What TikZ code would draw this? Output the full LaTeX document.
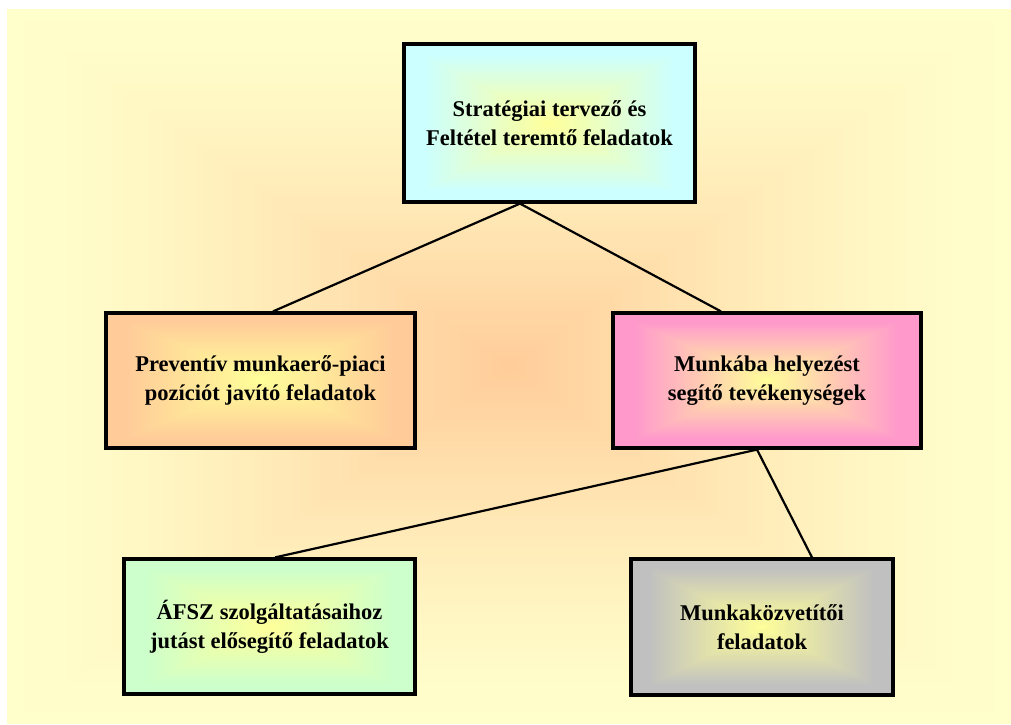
\documentclass[tikz,border=0pt]{standalone}
\usepackage{fontspec}
\setmainfont{Liberation Serif}
\usetikzlibrary{calc}
\definecolor{ctryel}{HTML}{FFFF99}
\definecolor{bgyel}{HTML}{FFFFCC}
\definecolor{bgor}{HTML}{FFCC99}
\definecolor{ecyan}{HTML}{CCFFFF}
\definecolor{epeach}{HTML}{FFCC99}
\definecolor{epink}{HTML}{FF99CC}
\definecolor{egreen}{HTML}{CCFFCC}
\definecolor{egrey}{HTML}{C0C0C0}
\newcommand{\myboxgrad}[1]{%
  \foreach \k in {0,...,60}{%
    \pgfmathsetmacro{\ff}{1-\k/60}%
    \pgfmathsetmacro{\pp}{min(100,115*\ff)}%
    \fill[#1!\pp!ctryel]
      ($(path picture bounding box.center)!\ff!(path picture bounding box.south west)$)
      rectangle
      ($(path picture bounding box.center)!\ff!(path picture bounding box.north east)$);
  }}
\tikzset{
  gbox/.style={draw=black, line width=3.2pt, align=center,
    font=\fontsize{22.5}{29}\selectfont\bfseries,
    path picture={\myboxgrad{#1}}},
  link/.style={draw=black, line width=2.2pt}
}
\begin{document}
\begin{tikzpicture}[x=1pt,y=-1pt]
\useasboundingbox (0,0) rectangle (1011,724);
% background gradient
\foreach \k in {0,...,120}{%
  \pgfmathsetmacro{\ff}{1-\k/120}%
  \pgfmathsetmacro{\pp}{100*(1-\ff)^1.4}%
  \fill[bgor!\pp!bgyel] ({509-502*\ff},{366.5-357.5*\ff}) rectangle ({509+502*\ff},{366.5+357.5*\ff});
}
\node[gbox=ecyan, minimum width=291pt, minimum height=158pt] (top) at (549.5,123)
  {Stratégiai tervező és\\Feltétel teremtő feladatok};
\node[gbox=epeach, minimum width=309pt, minimum height=135pt] (left) at (260.5,380.5)
  {Preventív munkaerő-piaci\\pozíciót javító feladatok};
\node[gbox=epink, minimum width=308pt, minimum height=135pt] (right) at (767,380.5)
  {Munkába helyezést\\segítő tevékenységek};
\node[gbox=egreen, minimum width=291pt, minimum height=135pt] (bl) at (269.5,626.5)
  {ÁFSZ szolgáltatásaihoz\\jutást elősegítő feladatok};
\node[gbox=egrey, minimum width=262pt, minimum height=136pt] (br) at (762,627)
  {Munkaközvetítői\\feladatok};
\draw[link] ([xshift=-29.5pt]top.south) -- ([xshift=12.5pt]left.north);
\draw[link] ([xshift=-29.5pt]top.south) -- ([xshift=-46pt]right.north);
\draw[link] ([xshift=-10pt]right.south) -- ([xshift=5.5pt]bl.north);
\draw[link] ([xshift=-10pt]right.south) -- ([xshift=50pt]br.north);
\end{tikzpicture}
\end{document}
